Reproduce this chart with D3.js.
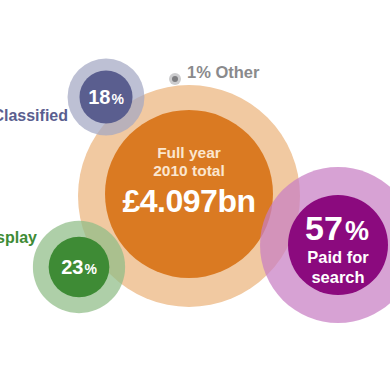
<!DOCTYPE html>
<html>
<head>
<meta charset="utf-8">
<script src="https://cdn.jsdelivr.net/npm/d3@7"></script>
<style>
  html, body { margin: 0; padding: 0; background: #fff; }
  svg { display: block; font-family: "Liberation Sans", Arial, sans-serif; font-weight: bold; }
</style>
</head>
<body>
<div id="chart"></div>
<script>
// data
var segments = ["Paid for search", "Display", "Classified", "Other"];
var shares = [57, 23, 18, 1];
var totalLabel = ["Full year", "2010 total"];
var totalValue = "£4.097bn";

// layout (centres, halo factor, colours)
var centres = [[338, 245], [79, 267], [106, 97], [175, 79]];
var halo = [1.56, 1.52, 1.45, 2];
var inner = ["#8b0a7e", "#3e8b35", "#5a5e8f", "#7d7d80"];
var outer = ["#c77ec4", "#8fbc86", "#a4a7c4", "#b9b9bb"];

(function() {
  var width = 390, height = 390;

  var svg = d3.select("#chart").append("svg")
    .attr("width", width)
    .attr("height", height);

  var r = d3.scalePow().exponent(0.55)
    .domain([0, 57])
    .range([0, 50]);

  // total bubble
  var tc = [189, 196];
  svg.append("circle")
    .attr("cx", tc[0]).attr("cy", tc[1]).attr("r", 111)
    .attr("fill", "#f1c9a1");
  svg.append("circle")
    .attr("cx", tc[0]).attr("cy", tc[1] - 2).attr("r", 84)
    .attr("fill", "#da7a22");

  svg.selectAll(".totalLabel")
    .data(totalLabel)
  .enter().append("text")
    .attr("class", "totalLabel")
    .attr("x", tc[0])
    .attr("y", (d, i) => 158 + i * 18)
    .attr("text-anchor", "middle")
    .attr("fill", "#fbe6cf")
    .attr("font-size", 15.5)
    .text(d => d);

  svg.append("text")
    .attr("x", tc[0]).attr("y", 212)
    .attr("text-anchor", "middle")
    .attr("fill", "#fff")
    .attr("font-size", 32)
    .attr("letter-spacing", -0.5)
    .text(totalValue);

  let data = segments.map((s, i) => ({
    name: s, value: shares[i], c: centres[i], h: halo[i], fill: inner[i], light: outer[i]
  }));

  let g = svg.selectAll(".seg")
    .data(data)
  .enter().append("g")
    .attr("class", "seg")
    .attr("transform", d => "translate(" + d.c[0] + "," + d.c[1] + ")");

  g.append("circle")
    .attr("r", d => d.name === "Other" ? 6 : r(d.value) * d.h)
    .attr("fill", d => d.light)
    .attr("fill-opacity", 0.72);

  g.append("circle")
    .attr("r", d => d.name === "Other" ? 3 : r(d.value))
    .attr("fill", d => d.fill);

  // percentages inside bubbles
  g.filter(d => d.name === "Display" || d.name === "Classified")
    .append("text")
    .attr("text-anchor", "middle")
    .attr("y", 7)
    .attr("fill", "#fff")
    .attr("font-size", 20)
    .each(function(d) {
      let t = d3.select(this);
      t.append("tspan").text(d.value);
      t.append("tspan").attr("font-size", 14).attr("dx", 1).text("%");
    });

  let big = g.filter(d => d.name === "Paid for search");
  big.append("text")
    .attr("text-anchor", "middle")
    .attr("x", -1)
    .attr("y", -5)
    .attr("fill", "#fff")
    .attr("font-size", 34)
    .each(function(d) {
      let t = d3.select(this);
      t.append("tspan").text(d.value);
      t.append("tspan").attr("font-size", 27).attr("dx", 2).text("%");
    });
  big.selectAll(".sub")
    .data(["Paid for", "search"])
  .enter().append("text")
    .attr("class", "sub")
    .attr("text-anchor", "middle")
    .attr("y", (d, i) => 18 + i * 20)
    .attr("fill", "#fff")
    .attr("font-size", 16.5)
    .text(d => d);

  // side labels
  svg.append("text")
    .attr("x", 68).attr("y", 121)
    .attr("text-anchor", "end")
    .attr("fill", "#5a5e8f")
    .attr("font-size", 16)
    .text(segments[2]);

  svg.append("text")
    .attr("x", 37).attr("y", 243)
    .attr("text-anchor", "end")
    .attr("fill", "#3e8b35")
    .attr("font-size", 16)
    .text(segments[1]);

  svg.append("text")
    .attr("x", 187).attr("y", 78)
    .attr("fill", "#8a8a8c")
    .attr("font-size", 16.5)
    .text(shares[3] + "% " + segments[3]);
})();
</script>
</body>
</html>
